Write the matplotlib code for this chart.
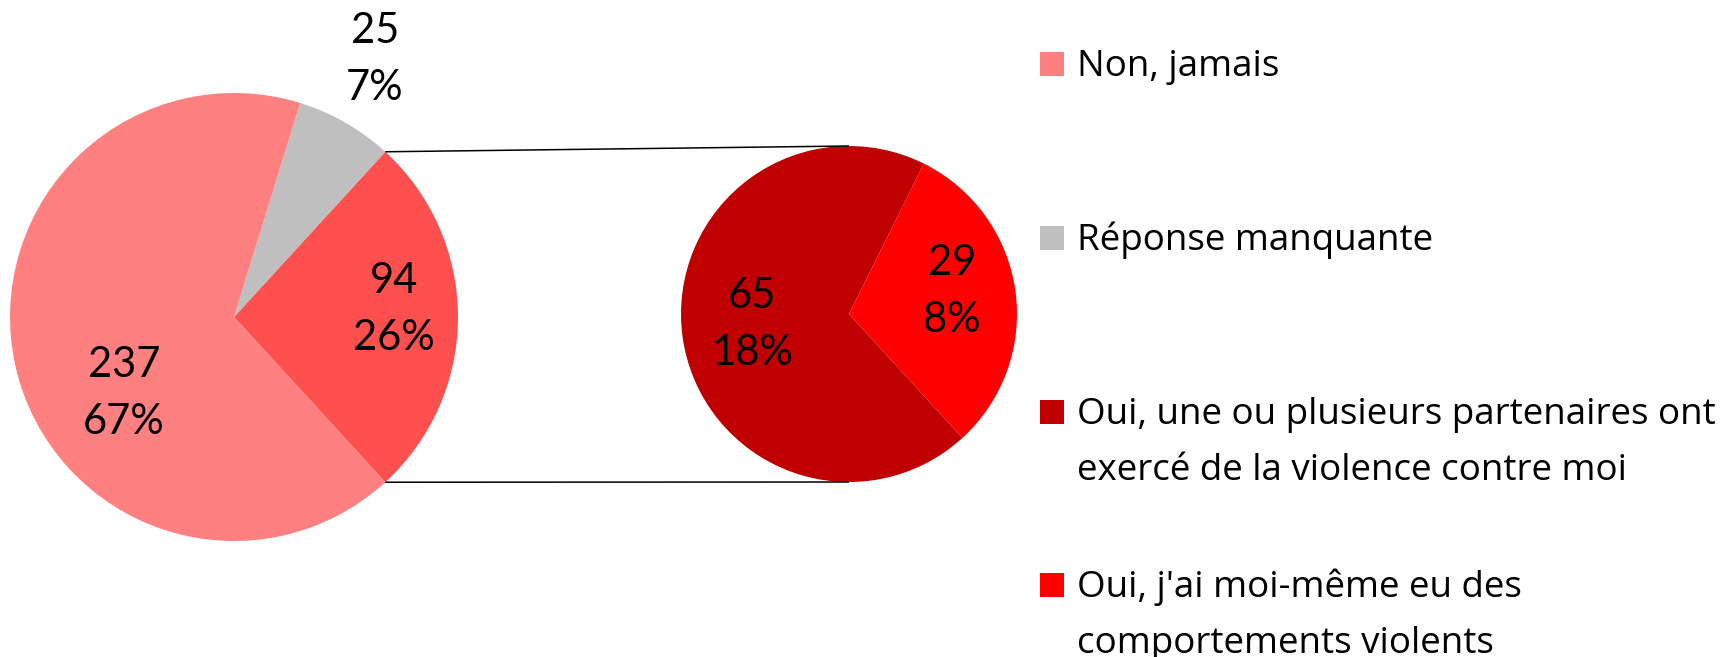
import numpy as np
import matplotlib.pyplot as plt
from matplotlib.patches import Rectangle

plt.rcParams["font.family"] = ["Lato", "DejaVu Sans"]

W, H = 1736, 657

# main pie, counterclockwise starting at the split-off slice
main_values = [94, 25, 237]
main_colors = ["#FF5050", "#BFBFBF", "#FF8080"]

# secondary pie: breakdown of the 94 "Oui"
sub_values = [29, 65]
sub_colors = ["#FF0000", "#C00000"]

legend_labels = [
    "Non, jamais",
    "Réponse manquante",
    "Oui, une ou plusieurs partenaires ont\nexercé de la violence contre moi",
    "Oui, j'ai moi-même eu des\ncomportements violents",
]
legend_colors = ["#FF8080", "#BFBFBF", "#C00000", "#FF0000"]

total = sum(main_values)


def up(y_px):
    # pixel rows from the top -> data y going up
    return H - y_px


fig = plt.figure(figsize=(W / 100, H / 100), dpi=100)
ax = fig.add_axes([0, 0, 1, 1])

main_c = (234, up(317))
main_r = 224
sub_c = (849, up(314))
sub_r = 168

start = -main_values[0] / total * 180
main_wedges, _ = ax.pie(main_values, colors=main_colors, startangle=start,
                        center=main_c, radius=main_r,
                        wedgeprops=dict(linewidth=0))
sub_wedges, _ = ax.pie(sub_values, colors=sub_colors, startangle=start,
                       center=sub_c, radius=sub_r,
                       wedgeprops=dict(linewidth=0))

# connector lines from the split slice to top / bottom of the secondary pie
w = main_wedges[0]
for ang, sy in [(w.theta2, sub_r), (w.theta1, -sub_r)]:
    a = np.deg2rad(ang)
    x0 = main_c[0] + main_r * np.cos(a)
    y0 = main_c[1] + main_r * np.sin(a)
    ax.plot([x0, sub_c[0]], [y0, sub_c[1] + sy], color="black", lw=1.1,
            solid_capstyle="butt")

# data labels: value + share of the whole
main_pos = [(0.714, 0.047), (0.629, 1.163), (-0.491, -0.326)]
sub_pos = [(0.613, 0.152), (-0.577, -0.045)]


def put_label(center, r, pos, v):
    cx = center[0] + pos[0] * r
    cy = center[1] + pos[1] * r
    lines = [str(v), f"{round(100 * v / total)}%"]
    for i, s in enumerate(lines):
        ax.text(cx, cy + 13.5 - 57 * i, s, ha="center", va="baseline",
                fontsize=30, color="black")


for v, p in zip(main_values, main_pos):
    put_label(main_c, main_r, p, v)
for v, p in zip(sub_values, sub_pos):
    put_label(sub_c, sub_r, p, v)

# legend drawn by hand to keep Excel's spacing
baselines = [76, 250, 424, 597]
for lab, col, b in zip(legend_labels, legend_colors, baselines):
    ax.add_patch(Rectangle((1040, up(b)), 24, 24, color=col, lw=0))
    for i, s in enumerate(lab.split("\n")):
        ax.text(1077, up(b + 56 * i), s, ha="left", va="baseline",
                fontsize=26.5, color="black",
                family=["Open Sans", "DejaVu Sans"])

ax.set_xlim(0, W)
ax.set_ylim(0, H)
ax.set_aspect("equal")
ax.axis("off")

fig.savefig("out.png", dpi=100)
